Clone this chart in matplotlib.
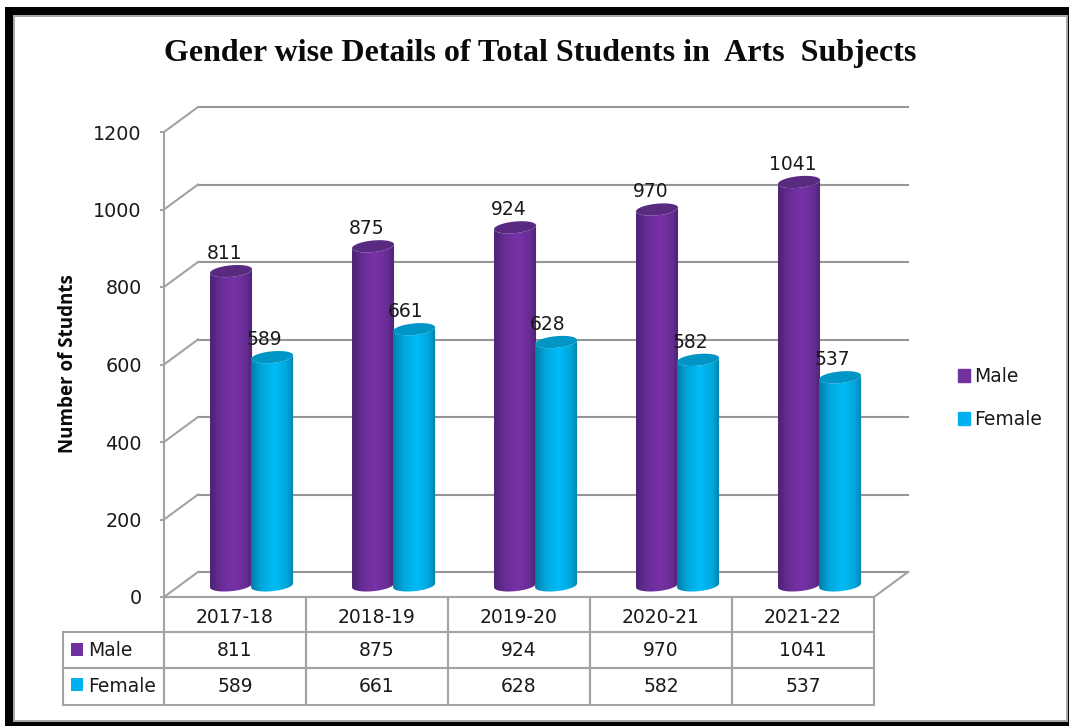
import numpy as np
from matplotlib import pyplot as plt
from matplotlib.colors import to_rgb
from matplotlib.patches import Patch, Polygon, Rectangle
from matplotlib.table import Table

years = ["2017-18", "2018-19", "2019-20", "2020-21", "2021-22"]
male = [811, 875, 924, 970, 1041]
female = [589, 661, 628, 582, 537]
yticks = [0, 200, 400, 600, 800, 1000, 1200]

W, H = 1069, 726
PLOT_L, PLOT_R, PLOT_T, PLOT_B = 164, 874, 132, 597
GREY = "#a3a3a3"
GRID = "#969696"
TEXT = "#1a1a1a"

plt.rcParams["font.family"] = "DejaVu Sans"
fig = plt.figure(figsize=(W / 100, H / 100), dpi=100, facecolor="white")


def frame(x0, y0, x1, y1, color):
    fig.add_artist(Rectangle((x0 / W, 1 - y1 / H), (x1 - x0) / W, (y1 - y0) / H,
                             transform=fig.transFigure, facecolor=color, edgecolor="none"))


# black picture frame with the thin grey inner edge
frame(5, 7, 1069, 726, "black")
frame(13, 15, 1068, 722, "#a8a8a8")
frame(15, 17, 1066, 720, "white")

ax = fig.add_axes([PLOT_L / W, 1 - PLOT_B / H, (PLOT_R - PLOT_L) / W, (PLOT_B - PLOT_T) / H])
ax.patch.set_alpha(0)
ax.set_zorder(2)

# depth of the fake 3D box, in data units
depth_x = 34 / 142
depth_y = 25 / (465 / 1200)

for v in yticks:
    ax.plot([depth_x, 5 + depth_x], [v + depth_y, v + depth_y], color=GRID, lw=1.5, clip_on=False, zorder=1)
    ax.plot([0, depth_x], [v, v + depth_y], color=GREY, lw=1.5, clip_on=False, zorder=1)
ax.plot([5, 5 + depth_x], [0, depth_y], color=GREY, lw=1.5, clip_on=False, zorder=1)


def cylinder(center, value, color_edge, color_mid, color_cap, z):
    half = 0.148
    rise = 15
    tilt = 5
    base = 30
    top = base + value
    t = np.linspace(0, 2 * np.pi, 80)
    ex = half * np.cos(t)
    ey = rise * np.sin(t) + tilt * np.cos(t)
    low = t[t >= np.pi]
    body_x = np.r_[center + half * np.cos(low), center + half * np.cos(low[::-1])]
    body_y = np.r_[base + rise * np.sin(low) + tilt * np.cos(low),
                   top + rise * np.sin(low[::-1]) + tilt * np.cos(low[::-1])]
    body = Polygon(np.c_[body_x, body_y], closed=True, facecolor="none", edgecolor="none", zorder=z)
    ax.add_patch(body)
    # horizontal shading across the cylinder
    shade = np.array([0.0, 0.25, 0.55, 0.85, 1.0])
    mix = np.array([0.0, 0.65, 1.0, 0.6, 0.0])
    xs = np.linspace(0, 1, 64)
    m = np.interp(xs, shade, mix)[None, :, None]
    rgb = np.array(to_rgb(color_edge))[None, None, :] * (1 - m) + np.array(to_rgb(color_mid))[None, None, :] * m
    im = ax.imshow(rgb, extent=[center - half, center + half, 0, top + 30], aspect="auto", zorder=z,
                   interpolation="bilinear", origin="lower")
    im.set_clip_path(body)
    ax.add_patch(Polygon(np.c_[center + ex, top + ey], closed=True, facecolor=color_cap, edgecolor="none",
                         zorder=z + 0.1))
    return top + rise


male_tops = []
female_tops = []
for i in range(len(years)):
    male_tops.append(cylinder(i + 0.472, male[i], "#4b2373", "#7832a8", "#582a80", 3 + i * 2))
    female_tops.append(cylinder(i + 0.761, female[i], "#0080aa", "#00bcf8", "#0095c4", 4 + i * 2))

for i in range(len(years)):
    ax.annotate(str(male[i]), (i + 0.472, male_tops[i]), xytext=(-6, 12), textcoords="offset pixels", ha="center",
                va="center", fontsize=13.5, color=TEXT, zorder=30, annotation_clip=False)
    ax.annotate(str(female[i]), (i + 0.761, female_tops[i]), xytext=(-8, 12), textcoords="offset pixels", ha="center",
                va="center", fontsize=13.5, color=TEXT, zorder=30, annotation_clip=False)

ax.set_xlim(0, 5)
ax.set_ylim(0, 1200)
ax.set_xticks([])
ax.set_yticks(yticks)
ax.tick_params(axis="y", length=3, width=1.5, color=GREY, labelsize=13.8, labelcolor=TEXT, pad=13)
for side in ["top", "right"]:
    ax.spines[side].set_visible(False)
for side in ["left", "bottom"]:
    ax.spines[side].set_color(GREY)
    ax.spines[side].set_linewidth(1.5)

# data table under the plot
col0 = 101 / 710
tb_h = 108 / 465
table = Table(ax, bbox=[-col0, -tb_h, 1 + col0, tb_h])
table.auto_set_font_size(False)
rows = [35, 36, 37]
for j, year in enumerate(years):
    table.add_cell(0, j + 1, 142, rows[0], edgecolor=GREY, facecolor="none")
    # sits a little below the middle of its cell
    ax.text(j + 0.5, -54, year, ha="center", va="center", fontsize=13.5, color=TEXT, clip_on=False, zorder=30)
for r, (name, vals) in enumerate([("Male", male), ("Female", female)], start=1):
    c = table.add_cell(r, 0, 101, rows[r], text=name, loc="left", edgecolor=GREY, facecolor="none")
    c.PAD = 0.25
    for j, val in enumerate(vals):
        table.add_cell(r, j + 1, 142, rows[r], text=str(val), loc="center", edgecolor=GREY, facecolor="none")
table.set_fontsize(13.5)
for cell in table.get_celld().values():
    cell.set_linewidth(1.5)
    cell.get_text().set_color(TEXT)
ax.add_table(table)

for swatch_y, color in [(656, "#7030a0"), (691, "#00b0f0")]:
    ax.add_patch(Rectangle(((71 - PLOT_L) / 710, (PLOT_B - swatch_y) / 465), 12 / 710, 13 / 465, transform=ax.transAxes,
                           facecolor=color, edgecolor="none", clip_on=False, zorder=30))

fig.legend(handles=[Patch(color="#7030a0", label="Male"), Patch(color="#00b0f0", label="Female")],
           loc="upper left", bbox_to_anchor=(941 / W, 1 - 350 / H), frameon=False, fontsize=13.5,
           handlelength=0.65, handleheight=0.65, handletextpad=0.22, labelspacing=1.3, labelcolor=TEXT)

fig.text(540 / W, 1 - 54 / H, "Gender wise Details of Total Students in  Arts  Subjects", ha="center", va="center",
         family="Liberation Serif", weight="bold", fontsize=23, color="#0a0a0a")
fig.text(68 / W, 1 - 364 / H, "Number of Studnts", rotation=90, ha="center", va="center",
         family="Open Sans", weight="bold", fontsize=13.5, color="#0a0a0a")

fig.savefig("out.png", dpi=100)
